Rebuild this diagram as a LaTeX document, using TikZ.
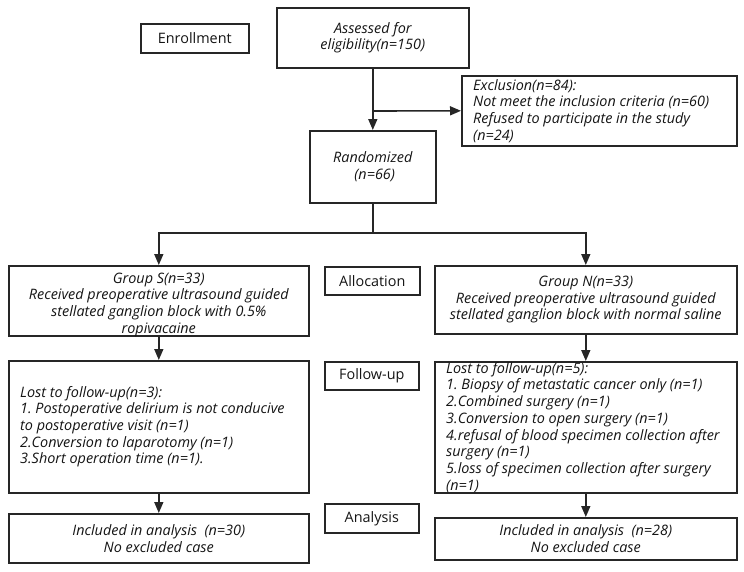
\documentclass[tikz,border=0pt]{standalone}
\usepackage{fontspec}
\setmainfont{Open Sans}
\frenchspacing
\usetikzlibrary{arrows.meta}
\tikzset{
  box/.style={draw=black!85, line width=1.6pt, anchor=north west, inner sep=0pt, text=black!92, font=\fontsize{14.4}{16.7}\selectfont},
  txt/.style={text=black!92, font=\fontsize{14.4}{16.7}\selectfont\itshape},
  conn/.style={draw=black!85, line width=1.6pt},
  arr/.style={conn, -{Triangle[length=11pt,width=9pt]}}
}
% \bx{name}{x1}{y1}{x2}{y2}{opts}{text}
\newcommand{\bx}[7]{%
  \pgfmathsetmacro{\bw}{#4-#2}\pgfmathsetmacro{\bh}{#5-#3}%
  \node[box, minimum width=\bw pt, minimum height=\bh pt, #6] (#1) at (#2,#3) {#7};}
% left-aligned text box: frame node #1 and text node #1T
\newcommand{\lbx}[6]{%
  \pgfmathsetmacro{\bw}{#4-#2}\pgfmathsetmacro{\bh}{#5-#3}%
  \node[box, minimum width=\bw pt, minimum height=\bh pt] (#1) at (#2,#3) {};
  \node[txt, align=left, anchor=west, inner sep=0pt] (#1T) at ([xshift=12pt]#1.west) {#6};}
\begin{document}
\begin{tikzpicture}[x=1pt,y=-1pt]
\useasboundingbox (0,0) rectangle (744,571);
\bx{enr}{140}{23}{248}{52}{}{Enrollment}
\bx{ass}{276}{7}{468}{67}{align=center,txt}{Assessed for\\eligibility(n=150)}
\lbx{exc}{461}{75}{736}{145}{Exclusion(n=84):\\Not meet the inclusion criteria (n=60)\\Refused to participate in the study\\(n=24)}
\bx{ran}{309}{130}{435}{202}{align=center,txt}{Randomized\\\ (n=66)}
\bx{grpS}{8}{265}{308}{335}{}{}
\node[txt, align=center, inner sep=0pt] (grpST) at ([yshift=-4pt]grpS.center) {Group S(n=33)\\Received preoperative ultrasound guided\\stellated ganglion block with 0.5\%\\ropivacaine};
\bx{alloc}{324}{266}{419}{294}{}{Allocation}
\bx{grpN}{434}{265}{736}{333}{align=center,txt}{Group N(n=33)\\Received preoperative ultrasound guided\\stellated ganglion block with normal saline}
\lbx{fuS}{8}{360}{308}{492}{Lost to follow-up(n=3):\\1. Postoperative delirium is not conducive\\to postoperative visit (n=1)\\2.Conversion to laparotomy (n=1)\\3.Short operation time (n=1).}
\bx{fulab}{324}{361}{418}{389}{}{Follow-up}
\lbx{fuN}{434}{361}{736}{492}{Lost to follow-up(n=5):\\1. Biopsy of metastatic cancer only (n=1)\\2.Combined surgery (n=1)\\3.Conversion to open surgery (n=1)\\4.refusal of blood specimen collection after\\surgery (n=1)\\5.loss of specimen collection after surgery\\(n=1)}
\bx{anS}{8}{513}{308}{562}{align=center,txt}{Included in analysis\ \ (n=30)\\No excluded case}
\bx{anlab}{324}{503}{418}{532}{}{Analysis}
\bx{anN}{434}{517}{736}{559}{align=center,txt}{Included in analysis\ \ (n=28)\\No excluded case}
% connectors
\coordinate (br) at (ass.south |- 0,111);
\coordinate (sp) at (ran.south |- 0,233);
\draw[arr] (ass.south) -- (ran.north);
\draw[arr] (br) -- (exc.west);
\draw[conn] (ran.south) -- (sp);
\draw[arr] (sp) -| (grpS.north);
\draw[arr] (sp) -| (grpN.north);
\draw[arr] (grpS.south) -- (fuS.north);
\draw[arr] (fuS.south) -- (anS.north);
\draw[arr] (grpN.south) -- (fuN.north);
\draw[arr] (fuN.south) -- (anN.north);
\end{tikzpicture}
\end{document}
